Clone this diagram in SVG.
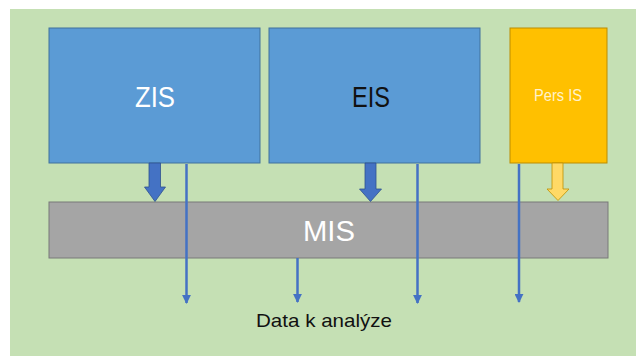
<svg xmlns="http://www.w3.org/2000/svg" width="636" height="356" viewBox="0 0 636 356">
<defs>
<style>
.blue{fill:#5b9bd5;stroke:#41719c;stroke-width:1}
.lbl{font-family:"Liberation Sans",Arial,sans-serif;fill:#ffffff;text-anchor:middle}
.thin{stroke:#4472c4;stroke-width:2.5;fill:none;marker-end:url(#ah)}
.blk{fill:#4472c4;stroke:#2f528f;stroke-width:0.8}
</style>
<marker id="ah" viewBox="0 0 10 10" refX="9" refY="5" markerWidth="3.6" markerHeight="3.6" orient="auto" markerUnits="strokeWidth">
<path d="M0,0 L10,5 L0,10 z" fill="#4472c4"/>
</marker>
</defs>
<rect x="0" y="0" width="636" height="356" fill="#ffffff"/>
<rect x="10" y="9" width="626" height="347" fill="#c5e0b4"/>
<g id="ZIS">
<rect class="blue" x="49" y="28" width="211" height="135"/>
<text class="lbl" x="155" y="107" font-size="29" textLength="40" lengthAdjust="spacingAndGlyphs">ZIS</text>
</g>
<g id="EIS">
<rect class="blue" x="269" y="28" width="211" height="135"/>
<text class="lbl" x="371" y="107" font-size="29" textLength="38" lengthAdjust="spacingAndGlyphs" style="fill:#111111">EIS</text>
</g>
<g id="PersIS">
<rect x="510" y="28" width="97" height="135" fill="#ffc000" stroke="#bc8c00" stroke-width="1"/>
<text class="lbl" x="558" y="101" font-size="16" textLength="48" lengthAdjust="spacingAndGlyphs" style="fill:#fff2cc">Pers IS</text>
</g>
<g id="MIS">
<rect x="49" y="202" width="559" height="56" fill="#a5a5a5" stroke="#787878" stroke-width="1"/>
<text class="lbl" x="329" y="241" font-size="29" textLength="52" lengthAdjust="spacingAndGlyphs">MIS</text>
</g>
<g id="output">
<text x="324" y="327" font-family="'Liberation Sans',Arial,sans-serif" font-size="19" fill="#111111" text-anchor="middle" textLength="136" lengthAdjust="spacingAndGlyphs">Data k analýze</text>
</g>
<g id="connectors">
<path class="blk" d="M149,163 H160.5 V187 H165.5 L155,201.5 L144.5,187 H149 Z"/>
<path class="blk" d="M365,163 H376 V189 H381.5 L370.5,201.5 L359.5,189 H365 Z"/>
<path d="M552,163 H563 V189 H569 L558,200.5 L547,189 H552 Z" fill="#ffd966" stroke="#bf9000" stroke-width="0.8"/>
<line class="thin" x1="186.5" y1="164" x2="186.5" y2="303"/>
<line class="thin" x1="417.5" y1="164" x2="417.5" y2="303"/>
<line class="thin" x1="519" y1="164" x2="519" y2="302"/>
<line class="thin" x1="297.5" y1="258" x2="297.5" y2="302"/>
</g>
</svg>
